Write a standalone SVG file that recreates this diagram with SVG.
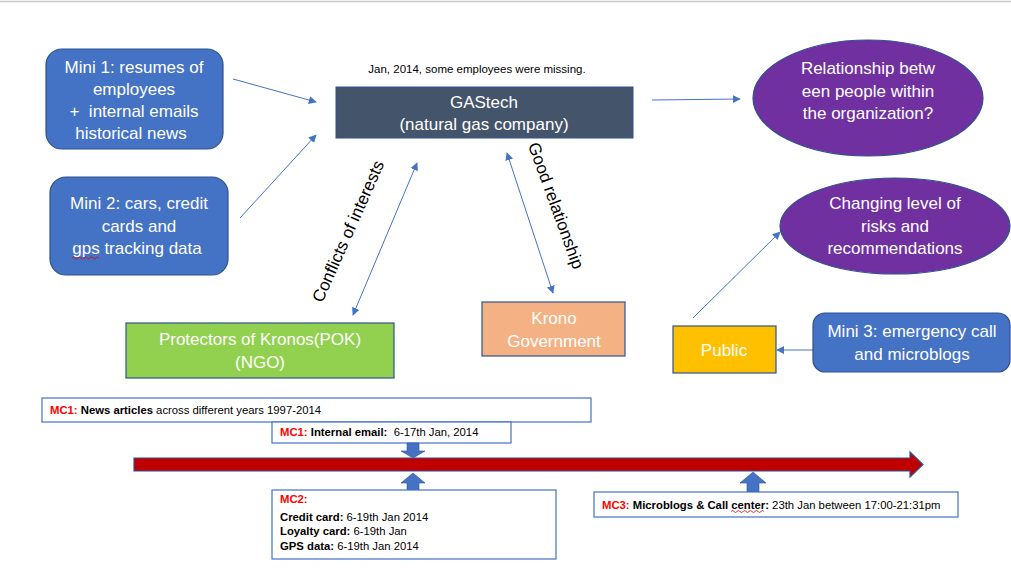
<svg xmlns="http://www.w3.org/2000/svg" width="1011" height="568" viewBox="0 0 1011 568">
<defs>
<style>
text{white-space:pre}
.t{font-family:"Liberation Sans",Arial,sans-serif;font-size:17px;fill:#fff;text-anchor:middle;dominant-baseline:central}
.k{font-family:"Liberation Sans",Arial,sans-serif;font-size:17px;fill:#000;text-anchor:middle;dominant-baseline:central}
.s{font-family:"Liberation Sans",Arial,sans-serif;font-size:11.3px;fill:#000;dominant-baseline:central}
.r{fill:#FF0000;font-weight:bold}
.b{font-weight:bold}
.blue{fill:#4472C4;stroke:#2F528F;stroke-width:1.2}
.conn{stroke:#4472C4;stroke-width:1;fill:none}
.tb{fill:#fff;stroke:#4472C4;stroke-width:1.2}
.sq{stroke:#E00000;stroke-width:0.8;fill:none}
</style>
<marker id="ah" viewBox="0 0 10 10" refX="9" refY="5" markerWidth="8" markerHeight="8" markerUnits="userSpaceOnUse" orient="auto-start-reverse">
<path d="M0,0 L10,5 L0,10 z" fill="#4472C4"/>
</marker>
</defs>
<rect width="1011" height="568" fill="#fff"/>
<line x1="0" y1="1.5" x2="1011" y2="1.5" stroke="#C8C8C8" stroke-width="1.5"/>

<g id="connectors">
<line class="conn" x1="233" y1="79" x2="316" y2="102" marker-end="url(#ah)"/>
<line class="conn" x1="240" y1="218" x2="316" y2="135" marker-end="url(#ah)"/>
<line class="conn" x1="652" y1="100" x2="740" y2="99" marker-end="url(#ah)"/>
<line class="conn" x1="417" y1="163" x2="353" y2="315" marker-start="url(#ah)" marker-end="url(#ah)"/>
<line class="conn" x1="507" y1="153" x2="553" y2="293" marker-start="url(#ah)" marker-end="url(#ah)"/>
<line class="conn" x1="693" y1="318" x2="780" y2="232" marker-end="url(#ah)"/>
<line class="conn" x1="813" y1="350" x2="777" y2="350" marker-end="url(#ah)"/>
<text class="k" transform="translate(352,233) rotate(-66)" y="-4">Conflicts of interests</text>
<text class="k" transform="translate(552,207) rotate(70)" y="-4">Good relationship</text>
</g>

<g id="mini1">
<rect class="blue" x="46" y="49" width="177" height="100" rx="16"/>
<text class="t" x="134" y="67">Mini 1: resumes of</text>
<text class="t" x="134" y="89">employees</text>
<text class="t" x="134" y="111">+  internal emails</text>
<text class="t" x="131" y="133">historical news</text>
</g>

<g id="mini2">
<rect class="blue" x="50" y="177" width="178" height="98" rx="16"/>
<text class="t" x="139" y="203">Mini 2: cars, credit</text>
<text class="t" x="139" y="226">cards and</text>
<text class="t" x="137" y="248">gps tracking data</text>
<path class="sq" d="M72,258 q1.5,-2 3,0 t3,0 t3,0 t3,0 t3,0 t3,0 t3,0 t3,0 t3,0"/>
</g>

<g id="note">
<text class="s" x="477" y="69" text-anchor="middle" style="font-size:11.5px">Jan, 2014, some employees were missing.</text>
</g>

<g id="gastech">
<rect x="336" y="87" width="297" height="51" fill="#44546A" stroke="#2F528F" stroke-width="1"/>
<text class="t" x="484" y="102">GAStech</text>
<text class="t" x="484" y="124">(natural gas company)</text>
</g>

<g id="relationship">
<ellipse cx="868" cy="98" rx="115" ry="58" fill="#7030A0" stroke="#2F528F" stroke-width="1.2"/>
<text class="t" x="868" y="68">Relationship betw</text>
<text class="t" x="868" y="91">een people within</text>
<text class="t" x="868" y="113">the organization?</text>
</g>

<g id="changing">
<ellipse cx="895" cy="226" rx="115" ry="48" fill="#7030A0" stroke="#2F528F" stroke-width="1.2"/>
<text class="t" x="895" y="203">Changing level of</text>
<text class="t" x="895" y="226">risks and</text>
<text class="t" x="895" y="248">recommendations</text>
</g>

<g id="pok">
<rect x="126" y="323" width="268" height="55" fill="#92D050" stroke="#2F528F" stroke-width="1.2"/>
<text class="t" x="260" y="339">Protectors of Kronos(POK)</text>
<text class="t" x="260" y="362">(NGO)</text>
</g>

<g id="krono">
<rect x="482" y="302" width="143" height="54" fill="#F4B183" stroke="#2F528F" stroke-width="1.2"/>
<text class="t" x="554" y="318">Krono</text>
<text class="t" x="554" y="341">Government</text>
</g>

<g id="public">
<rect x="673" y="326" width="103" height="47" fill="#FFC000" stroke="#2F528F" stroke-width="1.2"/>
<text class="t" x="724" y="350">Public</text>
</g>

<g id="mini3">
<rect class="blue" x="813" y="313" width="197" height="59" rx="12"/>
<text class="t" x="912" y="331">Mini 3: emergency call</text>
<text class="t" x="912" y="354">and microblogs</text>
</g>

<g id="timeline">
<path d="M134,458 H910 V452 L923,464.5 L910,477 V471 H134 Z" fill="#C00000" stroke="#2F528F" stroke-width="1.2"/>
</g>

<g id="mc1news">
<rect class="tb" x="42" y="398" width="549" height="24"/>
<text class="s" x="50" y="410"><tspan class="r">MC1:</tspan><tspan class="b"> News articles</tspan> across different years 1997-2014</text>
</g>

<g id="mc1email">
<rect class="tb" x="272" y="422" width="239" height="21"/>
<text class="s" x="280" y="432"><tspan class="r">MC1:</tspan><tspan class="b"> Internal email:</tspan>  6-17th Jan, 2014</text>
<path d="M407,443 H419 V451 H425 L413,458 L401,451 H407 Z" fill="#4472C4" stroke="#2F528F" stroke-width="0.6"/>
</g>

<g id="mc2">
<path d="M407,490 H419 V483 H425 L413,473 L401,483 H407 Z" fill="#4472C4" stroke="#2F528F" stroke-width="0.6"/>
<rect class="tb" x="272" y="490" width="284" height="69"/>
<text class="s" x="280" y="499"><tspan class="r">MC2:</tspan></text>
<text class="s" x="280" y="517"><tspan class="b">Credit card:</tspan> 6-19th Jan 2014</text>
<text class="s" x="280" y="531"><tspan class="b">Loyalty card:</tspan> 6-19th Jan</text>
<text class="s" x="280" y="546"><tspan class="b">GPS data:</tspan> 6-19th Jan 2014</text>
</g>

<g id="mc3">
<path d="M747,492 H759 V483 H766 L753,472 L740,483 H747 Z" fill="#4472C4" stroke="#2F528F" stroke-width="0.6"/>
<rect class="tb" x="594" y="492" width="364" height="25"/>
<text class="s" x="602" y="505"><tspan class="r">MC3:</tspan><tspan class="b"> Microblogs &amp; Call center:</tspan> 23th Jan between 17:00-21:31pm</text>
<path class="sq" d="M731,511.5 q1.5,-2 3,0 t3,0 t3,0 t3,0 t3,0 t3,0 t3,0 t3,0 t3,0 t3,0 t3,0"/>
</g>
</svg>
